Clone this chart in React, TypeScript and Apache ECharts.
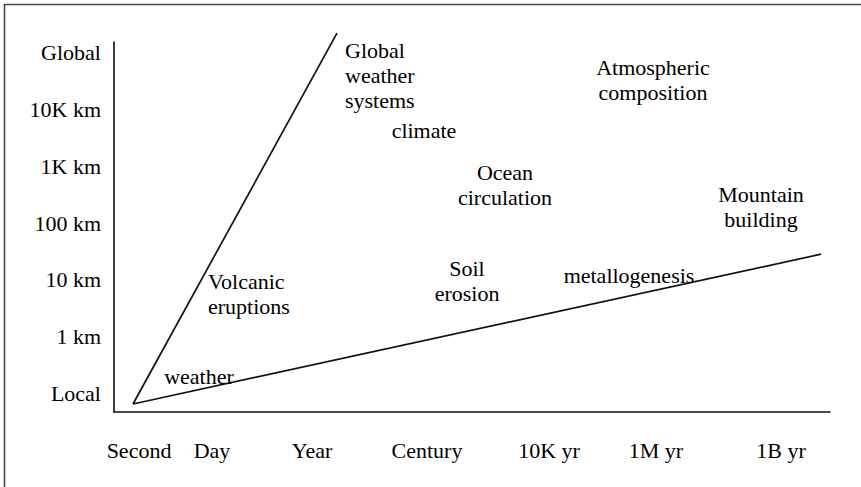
import React, { useEffect, useRef } from "react";
import * as echarts from "echarts";

// Tick labels (schematic scales)
const timeLabels = ["Second", "Day", "Year", "Century", "10K yr", "1M yr", "1B yr"];
const timePositions = [25, 98, 198, 313, 435, 542, 667];
const spaceLabels = ["Local", "1 km", "10 km", "100 km", "1K km", "10K km", "Global"];
const spacePositions = [0, 1, 2, 3, 4, 5, 6];

// The two bounding lines [time, space]
const steepLine = [[19, -0.194], [223, 6.35]];
const shallowLine = [[19, -0.194], [707, 2.45]];

// Process annotations
const processNames = [
  "Global\nweather\nsystems",
  "climate",
  "Ocean\ncirculation",
  "Atmospheric\ncomposition",
  "Mountain\nbuilding",
  "Volcanic\neruptions",
  "Soil\nerosion",
  "metallogenesis",
  "weather",
];
const processTime = [231, 310, 391, 539, 647, 94, 353, 515, 85];
const processSpace = [5.61, 4.64, 3.67, 5.52, 3.28, 1.75, 1.98, 2.08, 0.3];
const processAlign = ["left", "center", "center", "center", "center", "left", "center", "center", "center"];

const FONT = "'Liberation Serif', 'Times New Roman', serif";

export default function App() {
  const ref = useRef<HTMLDivElement>(null);
  useEffect(() => {
    if (!ref.current) return;
    const chart = echarts.init(ref.current, null, { renderer: "svg" });
    const annotations = processNames.map((n, i) => ({
      name: n,
      value: [processTime[i], processSpace[i]],
      label: { align: processAlign[i] },
    }));
    chart.setOption({
      animation: false,
      backgroundColor: "#fff",
      grid: { left: 114, right: 31, top: 42, bottom: 75 },
      xAxis: {
        type: "value",
        min: 0,
        max: 716,
        splitLine: { show: false },
        axisTick: { show: false },
        axisLine: { show: true, onZero: false, lineStyle: { color: "#111", width: 1.6 } },
        axisLabel: {
          customValues: timePositions,
          formatter: (v: number) => timeLabels[timePositions.indexOf(v)] ?? "",
          fontFamily: FONT,
          fontSize: 22,
          color: "#000",
          margin: 27,
        },
      },
      yAxis: {
        type: "value",
        min: -0.335,
        max: 6.194,
        splitLine: { show: false },
        axisTick: { show: false },
        axisLine: { show: true, onZero: false, lineStyle: { color: "#111", width: 1.6 } },
        axisLabel: {
          customValues: spacePositions,
          formatter: (v: number) => spaceLabels[spacePositions.indexOf(v)] ?? "",
          fontFamily: FONT,
          fontSize: 22,
          color: "#000",
          margin: 13,
        },
      },
      graphic: [
        {
          type: "rect",
          shape: { x: 4.5, y: 4.5, width: 1000, height: 1000 },
          style: { fill: "none", stroke: "#444", lineWidth: 1.6 },
          silent: true,
        },
      ],
      series: [
        {
          type: "line",
          data: steepLine,
          symbol: "none",
          clip: false,
          lineStyle: { color: "#111", width: 1.7 },
          silent: true,
        },
        {
          type: "line",
          data: shallowLine,
          symbol: "none",
          clip: false,
          lineStyle: { color: "#111", width: 1.7 },
          silent: true,
        },
        {
          type: "scatter",
          data: annotations,
          symbolSize: 1,
          itemStyle: { color: "transparent", opacity: 1 },
          silent: true,
          label: {
            show: true,
            position: "inside",
            formatter: "{b}",
            verticalAlign: "middle",
            fontFamily: FONT,
            fontSize: 22,
            lineHeight: 25,
            color: "#000",
            textBorderWidth: 0,
            textBorderColor: "transparent",
          },
        },
      ],
    });
    return () => chart.dispose();
  }, []);
  return (
    <div
      ref={ref}
      style={{ position: "fixed", left: 0, top: 0, width: 861, height: 487, background: "#fff" }}
    />
  );
}
